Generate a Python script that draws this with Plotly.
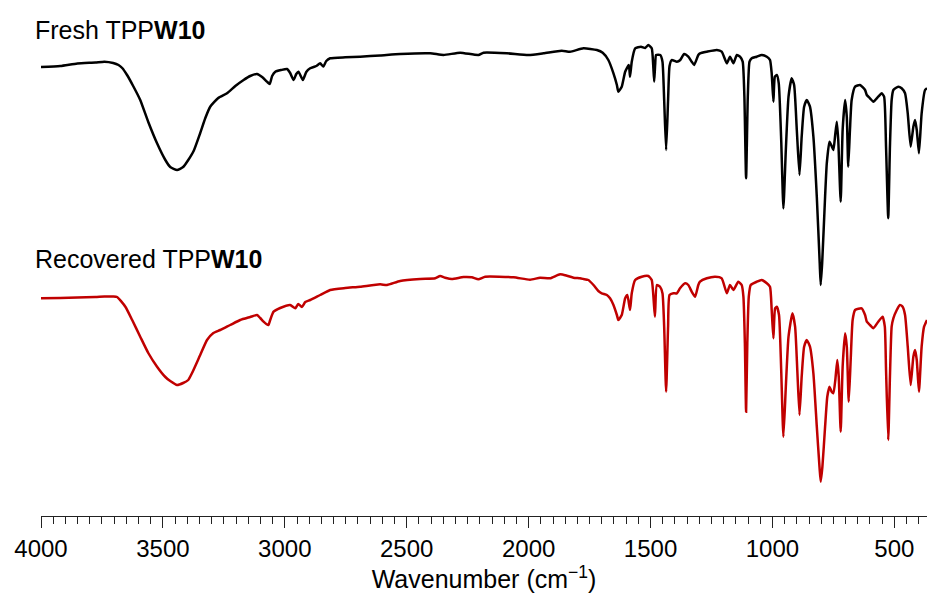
import plotly.graph_objects as go

# FT-IR spectra (offset transmittance, arbitrary units) vs wavenumber (cm-1)
fresh_wn = [4000, 3921, 3851, 3777, 3740, 3704, 3682, 3667, 3647, 3622, 3593, 3560, 3524, 3490, 3470,
            3442, 3417, 3396, 3374, 3347, 3326, 3306, 3273, 3237, 3203, 3169, 3142, 3114, 3093, 3073,
            3062, 3052, 3039, 3015, 2991, 2978, 2964, 2953, 2944, 2926, 2912, 2896, 2871, 2855, 2842,
            2830, 2814, 2752, 2691, 2609, 2527, 2404, 2349, 2281, 2206, 2185, 2089, 2001, 1939, 1864,
            1830, 1775, 1720, 1696, 1673, 1652, 1638, 1632, 1618, 1604, 1589, 1584, 1577, 1563, 1539,
            1522, 1509, 1495, 1489, 1485, 1481, 1477, 1460, 1451, 1444, 1436, 1428, 1422, 1413, 1392,
            1378, 1362, 1345, 1331, 1321, 1304, 1297, 1269, 1228, 1208, 1187, 1174, 1160, 1146, 1133,
            1122, 1115, 1108, 1101, 1094, 1085, 1064, 1044, 1023, 1010, 1003, 996, 990, 982, 974,
            964, 955, 945, 934, 921, 911, 900, 889, 880, 870, 859, 846, 832, 818, 806,
            802, 796, 784, 777, 766, 757, 750, 743, 736, 730, 720, 712, 702, 695, 689,
            682, 675, 661, 641, 620, 613, 600, 586, 566, 552, 542, 534, 525, 518, 511,
            504, 484, 470, 456, 445, 433, 422, 415, 408, 399, 388, 374, 366]
fresh_y = [449, 450, 452.5, 453.5, 454.3, 453, 451, 448, 441, 430, 416, 394, 372.7, 356, 349,
           346, 349, 356, 365, 383, 398, 409.3, 418, 422.7, 430, 436, 440, 442, 439, 434.3,
           432, 440, 444.3, 446, 447, 443, 436, 442, 444.3, 436, 444, 447.7, 450, 452.7, 449.5,
           455, 457.7, 458.7, 459.3, 460.5, 462, 462.7, 461, 463.3, 461, 463.3, 462.7, 461, 462.7, 465.3,
           464.3, 467.7, 466, 463.3, 456, 442.7, 431, 424.3, 429.3, 444.3, 451, 439.3, 454.3, 467.7, 469.3,
           468, 471, 467.7, 451, 434.3, 451, 461, 461, 454.3, 416, 366, 416, 450, 456, 454.3,
           456, 462, 459.3, 454.3, 451, 461, 462.7, 464.3, 466, 464.3, 452.7, 459.3, 452.7, 461, 459.3,
           454.3, 419.3, 337.7, 419.3, 454.3, 457.7, 459.3, 461, 459.3, 456, 442.7, 414.3, 439.3, 441, 432.7,
           376, 307.7, 366, 419.3, 437.7, 431, 386, 341, 379.3, 409.3, 416, 409.3, 379.3, 319.3, 252.7,
           231, 252.7, 319.3, 352.7, 374.3, 370, 366, 380, 394.3, 376, 314.3, 386, 416, 399.3, 349.3,
           386, 416, 429.3, 431, 426, 421, 417.7, 414.3, 419.3, 422.7, 419.3, 369.3, 297.7, 369.3, 416,
           426, 429.3, 427.7, 422.7, 402.7, 369.3, 389.3, 396, 386, 362.7, 402.7, 426, 427.7]

recovered_wn = [4000, 3921, 3851, 3777, 3740, 3704, 3688, 3654, 3626, 3593, 3560, 3524, 3490, 3470, 3442,
                3417, 3396, 3381, 3347, 3319, 3293, 3265, 3224, 3183, 3142, 3114, 3101, 3087, 3076, 3067,
                3060, 3046, 3019, 2978, 2957, 2945, 2930, 2916, 2896, 2855, 2814, 2752, 2691, 2609, 2581,
                2527, 2445, 2383, 2363, 2342, 2315, 2267, 2233, 2206, 2178, 2062, 1994, 1953, 1912, 1871,
                1843, 1816, 1789, 1775, 1755, 1734, 1714, 1700, 1679, 1666, 1652, 1638, 1632, 1618, 1604,
                1595, 1584, 1577, 1563, 1536, 1509, 1495, 1482, 1474, 1461, 1451, 1444, 1436, 1428, 1422,
                1406, 1392, 1379, 1358, 1345, 1331, 1317, 1304, 1297, 1269, 1235, 1208, 1187, 1174, 1160,
                1140, 1126, 1119, 1113, 1108, 1103, 1097, 1089, 1064, 1044, 1023, 1010, 1003, 996, 989,
                982, 973, 964, 955, 945, 934, 918, 907, 898, 889, 880, 870, 859, 846, 832,
                818, 807, 802, 795, 784, 775, 766, 757, 750, 742, 734, 728, 720, 712, 702,
                695, 687, 679, 671, 661, 634, 620, 613, 600, 586, 566, 548, 539, 534, 525,
                518, 511, 504, 490, 477, 466, 456, 445, 433, 422, 415, 408, 399, 388, 378, 366]
recovered_y = [217.7, 218, 218.5, 219, 219.5, 219.5, 219, 209.3, 196, 179.3, 163, 149.3, 139, 135, 131,
               133, 136, 142.7, 161, 176, 183, 186, 191, 196, 199, 201, 198, 194.3, 192, 191,
               196, 204.3, 208, 211, 207.7, 212, 209, 214, 216, 221, 226, 228, 229.3, 231.7, 231,
               235, 237, 237.7, 240, 238.3, 237, 239, 238.7, 236.7, 239.3, 238.7, 236.3, 238.3, 237.7, 241.7,
               240.3, 238.3, 237.7, 237, 236, 231, 225, 222.7, 221, 217.7, 211, 201, 196, 201, 217.7,
               221, 206, 222.7, 236, 239.3, 240, 236, 199.3, 231, 229.3, 222.7, 189.3, 124.3, 189.3, 221,
               222.7, 222.7, 227.7, 232.7, 231, 224.3, 219.3, 231, 234.3, 237.7, 239.3, 237.7, 222.7, 231, 226,
               234.3, 231, 219.3, 172.7, 104.3, 172.7, 219.3, 231, 234.3, 236, 232.7, 229.3, 206, 177.7, 207.7,
               209.3, 201, 146, 79.3, 129.3, 179.3, 202.7, 189.3, 146, 101, 139.3, 169.3, 176, 169.3, 142.7,
               89.3, 49.3, 34.3, 49.3, 89.3, 119.3, 129.3, 124.3, 122.7, 136, 156, 139.3, 84.3, 149.3, 182.7,
               169.3, 114.3, 156, 196, 206, 207.7, 201, 194.3, 191, 187.7, 194.3, 199.3, 189.3, 146, 76,
               139.3, 189.3, 197.7, 206, 211, 209.3, 201, 169.3, 131, 159.3, 166, 156, 124.3, 169.3, 189.3, 196]

series_names = ["Fresh TPPW10", "Recovered TPPW10"]
series_colors = ["#000000", "#c00000"]
tick_values = [4000, 3500, 3000, 2500, 2000, 1500, 1000, 500]

fig = go.Figure()
fig.add_trace(go.Scatter(x=fresh_wn, y=fresh_y, mode="lines", name=series_names[0],
                         line=dict(color=series_colors[0], width=2.5, shape="spline", smoothing=0.5)))
fig.add_trace(go.Scatter(x=recovered_wn, y=recovered_y, mode="lines", name=series_names[1],
                         line=dict(color=series_colors[1], width=2.5, shape="spline", smoothing=0.5)))

font_family = "Liberation Sans, Arial, sans-serif"

fig.update_layout(
    width=927, height=598,
    margin=dict(l=41, r=0, t=0, b=82),
    paper_bgcolor="white", plot_bgcolor="white",
    showlegend=False,
    font=dict(family=font_family, color="black"),
    xaxis=dict(
        range=[4000, 366], autorange=False,
        tickvals=tick_values, ticktext=[str(v) for v in tick_values],
        ticks="outside", ticklen=11, tickwidth=1.3, tickcolor="#222",
        showline=True, linecolor="#222", linewidth=1.3,
        showgrid=False, zeroline=False,
        tickfont=dict(size=24, family=font_family, color="black"),
        minor=dict(dtick=50, tick0=0, ticks="outside", ticklen=7, tickwidth=1.1, tickcolor="#222", showgrid=False),
        title=dict(text="Wavenumber (cm<sup>\u22121</sup>)", font=dict(size=25, family=font_family, color="black"), standoff=6),
    ),
    yaxis=dict(range=[0, 516], autorange=False, visible=False, showgrid=False, zeroline=False),
)

fig.add_annotation(text="Fresh TPP<b>W10</b>", xref="paper", yref="paper",
                   x=(33 - 41) / 886, y=1 - 30 / 516, xanchor="left", yanchor="middle",
                   showarrow=False, font=dict(size=25, family=font_family, color="black"))
fig.add_annotation(text="Recovered TPP<b>W10</b>", xref="paper", yref="paper",
                   x=(33 - 41) / 886, y=1 - 259 / 516, xanchor="left", yanchor="middle",
                   showarrow=False, font=dict(size=25, family=font_family, color="black"))

fig.write_html("out.html")
